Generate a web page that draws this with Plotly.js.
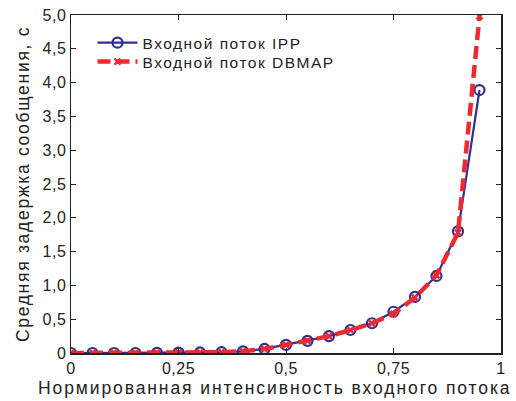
<!DOCTYPE html>
<html><head><meta charset="utf-8">
<script src="https://cdn.plot.ly/plotly-3.0.1.min.js"></script>
<style>
body{margin:0;background:#fff}
#chart{width:516px;height:401px}
.ytitle{letter-spacing:1.7px}
.annotation-text{letter-spacing:1.9px}
.xtick text,.ytick text{letter-spacing:0.5px}
.infolayer g[class*="legend"] text{letter-spacing:1.5px}
</style>
</head><body><div id="chart"></div>
<script>
const load = [0,0.05,0.1,0.15,0.2,0.25,0.3,0.35,0.4,0.45,0.5,0.55,0.6,0.65,0.7,0.75,0.8,0.85,0.9,0.95];
const delayIPP = [0,0,0,0,0.003,0.005,0.008,0.012,0.025,0.06,0.12,0.18,0.25,0.34,0.44,0.61,0.83,1.14,1.80,3.89];
const delayDBMAP = [0,0,0,0,0.003,0.005,0.008,0.012,0.025,0.06,0.12,0.18,0.25,0.34,0.44,0.58,0.82,1.15,1.78,4.98];
const xTickVals = [0,0.25,0.5,0.75,1];
const xTickText = ['0','0,25','0,5','0,75','1'];
const yTickVals = [0,0.5,1,1.5,2,2.5,3,3.5,4,4.5,5];
const yTickText = ['0','0,5','1,0','1,5','2,0','2,5','3,0','3,5','4,0','4,5','5,0'];
const names = ['Входной поток IPP','Входной поток DBMAP'];
const titleX = 'Нормированная интенсивность входного потока';
const titleY = 'Средняя задержка сообщения, с';

const font = 'Liberation Sans, Arial, sans-serif';
const pad = '\u00a0'.repeat(8);
const traces = [
 {x:load,y:delayIPP,name:names[0]+pad,type:'scatter',mode:'lines+markers',legend:'legend',
  line:{color:'#2e3192',width:2.2},
  marker:{symbol:'circle-open',size:10,color:'#2e3192',line:{width:2.2,color:'#2e3192'}}},
 {x:load,y:delayDBMAP,name:names[1]+pad,type:'scatter',mode:'lines+markers',legend:'legend2',
  line:{color:'#ee2a30',width:4.5,dash:'13px,6px'},
  marker:{symbol:'x-thin-open',size:6,color:'#ee2a30',line:{width:2.5,color:'#ee2a30'}}}
];
function leg(y){
  return {x:0.05,y:y,xanchor:'left',yanchor:'middle',bgcolor:'rgba(0,0,0,0)',
   font:{family:font,size:15.5,color:'#222'},itemwidth:40};
}
const layout = {
 width:516,height:401,
 margin:{l:71,r:15,t:15,b:48},
 paper_bgcolor:'#fff',plot_bgcolor:'#fff',
 font:{family:font,color:'#222',size:16},
 showlegend:true,
 legend:leg(0.917),
 legend2:leg(0.861),
 annotations:[{text:titleX,xref:'paper',yref:'paper',x:0.473,y:-0.1036,
   xanchor:'center',yanchor:'middle',showarrow:false,font:{family:font,size:17.5,color:'#222'}}],
 xaxis:{range:[0,1],tickvals:xTickVals,ticktext:xTickText,ticks:'inside',ticklen:5,
   tickcolor:'#222',showline:true,linecolor:'#222',linewidth:1.5,mirror:'ticks',
   showgrid:false,zeroline:false,tickfont:{size:16}},
 yaxis:{range:[0,5],tickvals:yTickVals,ticktext:yTickText,ticks:'inside',ticklen:5,
   tickcolor:'#222',showline:true,linecolor:'#222',linewidth:1.5,mirror:'ticks',
   showgrid:false,zeroline:false,tickfont:{size:16},
   title:{text:titleY,font:{size:17.5},standoff:8}}
};
Plotly.newPlot('chart',traces,layout,{displayModeBar:false,staticPlot:true});
</script></body></html>
